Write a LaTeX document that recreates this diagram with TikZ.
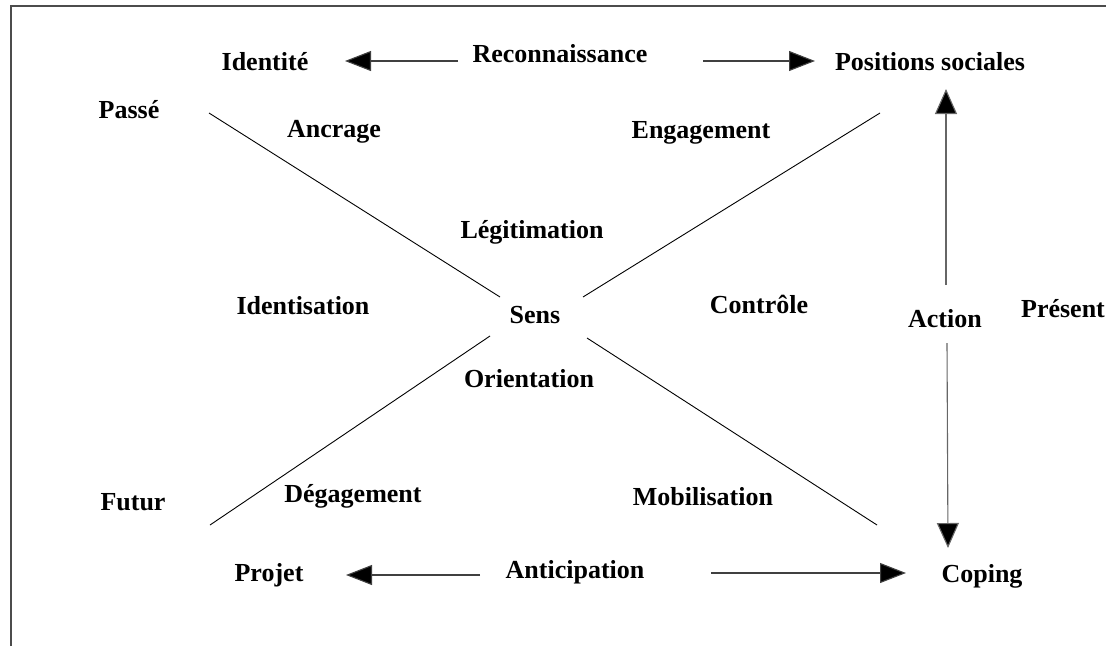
\documentclass[tikz,border=0pt]{standalone}
\usepackage{fontspec}
\setmainfont{Liberation Serif}
\usetikzlibrary{arrows.meta}
\begin{document}
\begin{tikzpicture}[x=1pt,y=-1pt,
  lbl/.style={inner sep=0pt,anchor=base,font=\fontsize{26}{30}\selectfont\bfseries},
  xline/.style={line width=0.9pt,black},
  harr/.style={line width=1.1pt,draw=black!75,-{Triangle[length=26pt,width=20pt,fill=black]}},
  varr/.style={line width=1.1pt,draw=black!60,-{Triangle[length=25pt,width=22pt,fill=black]}},
  frame/.style={line width=1.4pt,draw=black!70}]
\useasboundingbox (0,0) rectangle (1106,646);
% frame
\coordinate (fTL) at (11,6);
\coordinate (fTR) at (1106,6);
\coordinate (fBL) at (11,646);
\draw[frame] (fBL) -- (fTL) -- (fTR);
% labels
\node[lbl] (ide) at (265,70) {Identité};
\node[lbl] (rec) at (560,62) {Reconnaissance};
\node[lbl] (pos) at (930,70) {Positions sociales};
\node[lbl] (pas) at (129,118) {Passé};
\node[lbl] (anc) at (334,137) {Ancrage};
\node[lbl] (eng) at (701,138) {Engagement};
\node[lbl] (leg) at (532,238) {Légitimation};
\node[lbl] (idn) at (303,314) {Identisation};
\node[lbl] (sen) at (535,323) {Sens};
\node[lbl] (con) at (759,313) {Contrôle};
\node[lbl] (act) at (945,327) {Action};
\node[lbl] (pre) at (1063,317) {Présent};
\node[lbl] (ori) at (529,387) {Orientation};
\node[lbl] (fut) at (133,510) {Futur};
\node[lbl] (deg) at (353,502) {Dégagement};
\node[lbl] (mob) at (703,505) {Mobilisation};
\node[lbl] (pro) at (269,581) {Projet};
\node[lbl] (ant) at (575,578) {Anticipation};
\node[lbl] (cop) at (982,582) {Coping};
% X lines
\coordinate (x1a) at (209,113); \coordinate (x1b) at (500,297);
\coordinate (x2a) at (583,297); \coordinate (x2b) at (880,113);
\coordinate (x3a) at (490,336); \coordinate (x3b) at (210,525);
\coordinate (x4a) at (587,338); \coordinate (x4b) at (877,525);
\draw[xline] (x1a) -- (x1b);
\draw[xline] (x2a) -- (x2b);
\draw[xline] (x3a) -- (x3b);
\draw[xline] (x4a) -- (x4b);
% horizontal arrows
\coordinate (h1s) at (458,61); \coordinate (h1e) at (345,61);
\coordinate (h2s) at (703,61); \coordinate (h2e) at (815,61);
\coordinate (h3s) at (480,575); \coordinate (h3e) at (346,575);
\coordinate (h4s) at (711,573); \coordinate (h4e) at (906,573);
\draw[harr] (h1s) -- (h1e);
\draw[harr] (h2s) -- (h2e);
\draw[harr] (h3s) -- (h3e);
\draw[harr] (h4s) -- (h4e);
% vertical arrows
\coordinate (v1s) at (946,285); \coordinate (v1e) at (946,89);
\coordinate (v2s) at (947,343); \coordinate (v2e) at (948,548);
\draw[varr] (v1s) -- (v1e);
\draw[varr] (v2s) -- (v2e);
\end{tikzpicture}
\end{document}
